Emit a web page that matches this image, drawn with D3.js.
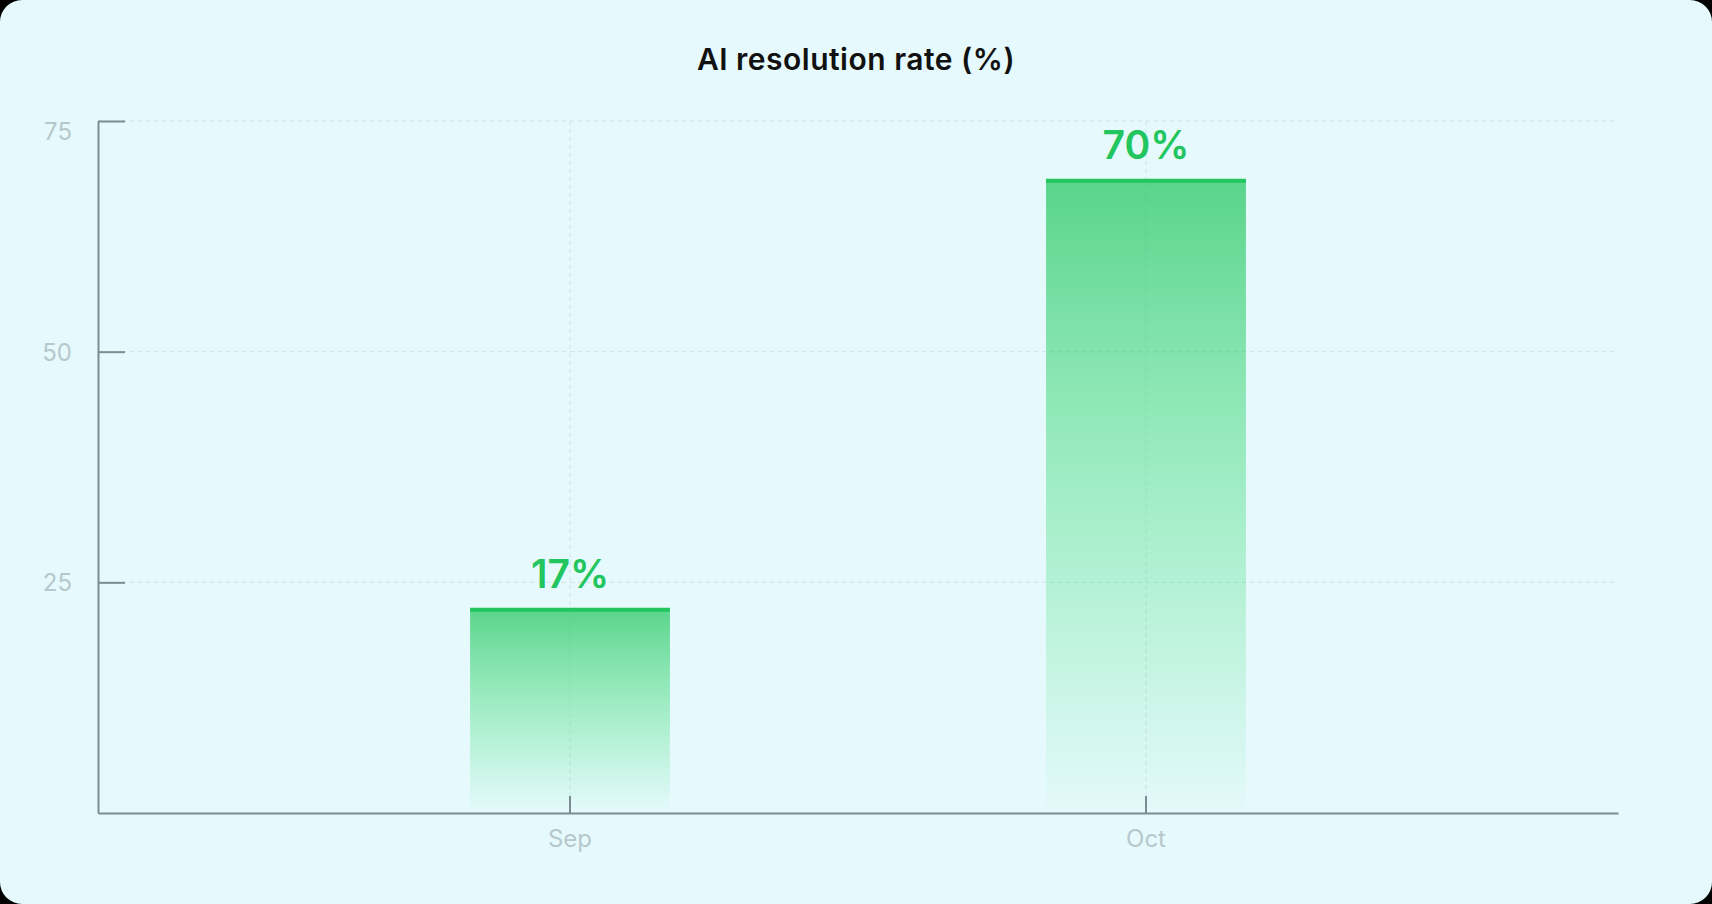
<!DOCTYPE html>
<html>
<head>
<meta charset="utf-8">
<script src="https://cdn.jsdelivr.net/npm/d3@7"></script>
<style>
  html, body { margin: 0; padding: 0; background: #000; }
  #chart { width: 1712px; height: 904px; }
</style>
</head>
<body>
<div id="chart"></div>
<script>
// data
let months = ["Sep", "Oct"];
let barValues = [22.2, 68.7];
let barLabels = ["17%", "70%"];
let yTicks = [25, 50, 75];

let svgWidth = 1712;
let svgHeight = 904;
let margin = {top: 121, right: 94, bottom: 91, left: 98};

let svg = d3.select("#chart")
  .append("svg")
  .attr("width", svgWidth)
  .attr("height", svgHeight)

//card background
svg.append("rect")
  .attr("width", svgWidth)
  .attr("height", svgHeight)
  .attr("rx", 22)
  .attr("fill", "#e6fafd")

//gradient for bars
let defs = svg.append("defs")
let grad = defs.append("linearGradient")
  .attr("id", "barGrad")
  .attr("x1", 0).attr("y1", 0).attr("x2", 0).attr("y2", 1)
grad.append("stop").attr("offset", "0%").attr("stop-color", "#22c55e").attr("stop-opacity", 0.72)
grad.append("stop").attr("offset", "55%").attr("stop-color", "#4ade80").attr("stop-opacity", 0.4)
grad.append("stop").attr("offset", "100%").attr("stop-color", "#4ade80").attr("stop-opacity", 0.02)

let xScale = d3.scaleBand()
  .domain(months)
  .range([margin.left, svgWidth - margin.right])
  .paddingInner(0.653)
  .paddingOuter(0.646)

let yScale = d3.scaleLinear()
  .domain([0, 75])
  .range([svgHeight - margin.bottom, margin.top])

//title
svg.append("text")
  .attr("x", svgWidth / 2)
  .attr("y", 70)
  .attr("text-anchor", "middle")
  .attr("font-family", "Inter, 'DejaVu Sans', sans-serif")
  .attr("font-weight", 600)
  .attr("font-size", 30)
  .attr("letter-spacing", 0.5)
  .attr("fill", "#111")
  .text("AI resolution rate (%)")

//grid lines
svg.append("g")
  .selectAll("line")
  .data(yTicks)
  .enter()
  .append("line")
  .attr("x1", margin.left)
  .attr("x2", svgWidth - margin.right)
  .attr("y1", d => yScale(d))
  .attr("y2", d => yScale(d))
  .attr("stroke", "#cfe0e4")
  .attr("stroke-dasharray", "4,4")

svg.append("g")
  .selectAll("line")
  .data(months)
  .enter()
  .append("line")
  .attr("x1", d => xScale(d) + xScale.bandwidth() / 2)
  .attr("x2", d => xScale(d) + xScale.bandwidth() / 2)
  .attr("y1", yScale(75))
  .attr("y2", yScale(0))
  .attr("stroke", "#cfe0e4")
  .attr("stroke-dasharray", "4,4")

//bars
let bars = svg.append("g")
  .selectAll("g")
  .data(barValues)
  .enter()
  .append("g")

bars.append("rect")
  .attr("x", (d, i) => xScale(months[i]))
  .attr("width", xScale.bandwidth())
  .attr("y", d => yScale(d))
  .attr("height", d => yScale(0) - yScale(d) - 4)
  .attr("fill", "url(#barGrad)")

bars.append("line")
  .attr("x1", (d, i) => xScale(months[i]))
  .attr("x2", (d, i) => xScale(months[i]) + xScale.bandwidth())
  .attr("y1", d => yScale(d) + 1.5)
  .attr("y2", d => yScale(d) + 1.5)
  .attr("stroke", "#22c55e")
  .attr("stroke-width", 4)

bars.append("text")
  .attr("x", (d, i) => xScale(months[i]) + xScale.bandwidth() / 2)
  .attr("y", d => yScale(d) - 20)
  .attr("text-anchor", "middle")
  .attr("font-family", "Inter, 'DejaVu Sans', sans-serif")
  .attr("font-weight", 600)
  .attr("font-size", 39)
  .attr("fill", "#22c55e")
  .text((d, i) => barLabels[i])

//axes
let xAxis = d3.axisBottom(xScale).tickSizeInner(-17).tickSizeOuter(0).tickPadding(22)
let yAxis = d3.axisLeft(yScale).tickValues(yTicks).tickSizeInner(-27).tickSizeOuter(0).tickPadding(26)

let gx = svg.append("g")
  .attr("transform", `translate(0,${yScale(0)})`)
  .call(xAxis)

let gy = svg.append("g")
  .attr("transform", `translate(${margin.left},0)`)
  .call(yAxis)

//axis look
for (let g of [gx, gy]) {
  g.select(".domain").attr("stroke", "#7b8d93").attr("stroke-width", 2)
  g.selectAll(".tick line").attr("stroke", "#7b8d93").attr("stroke-width", 2)
  g.selectAll(".tick text")
    .attr("fill", "#b7c8cc")
    .attr("font-family", "Inter, 'DejaVu Sans', sans-serif")
    .attr("font-size", 24)
}
//top label sits a bit lower so it stays inside the plot
gy.selectAll(".tick text").attr("dy", d => d === 75 ? "0.75em" : "0.35em")
gx.selectAll(".tick text").attr("dy", "0.5em")
</script>
</body>
</html>
